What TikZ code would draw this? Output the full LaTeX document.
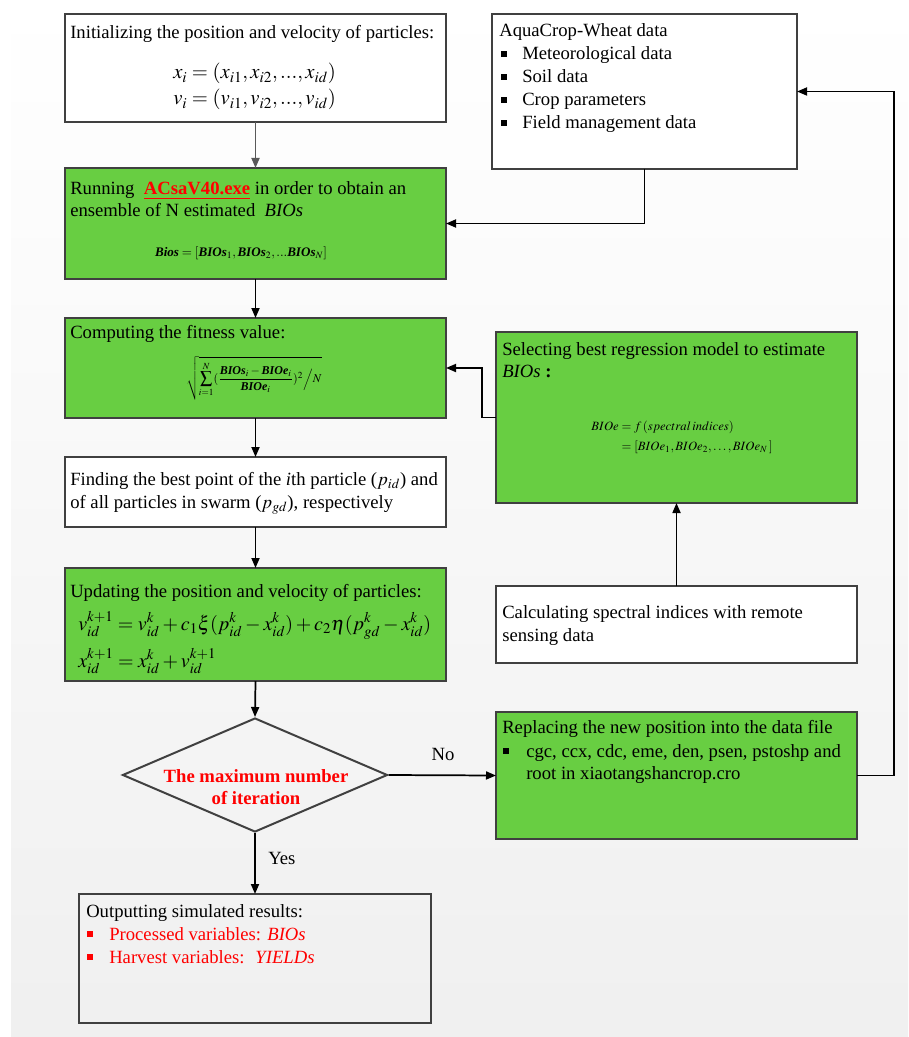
\documentclass[tikz,border=0pt]{standalone}
\usepackage{amsmath}
\usepackage{mathptmx}
\usepackage[no-math]{fontspec}
\setmainfont{Liberation Serif}
\usetikzlibrary{arrows.meta,shapes.geometric,fit}
\definecolor{boxgreen}{RGB}{104,206,66}
\definecolor{edgegray}{RGB}{64,64,64}
\definecolor{redtxt}{RGB}{255,0,0}
\newcommand\bi[1]{\textbf{\textit{#1}}}
\newcommand\sqb{\rule[2.6pt]{4.2pt}{4.2pt}}
\tikzset{
  box/.style={draw=edgegray, line width=1.5pt, inner sep=0pt, outer sep=0pt},
  gbox/.style={box, fill=boxgreen},
  wbox/.style={box, fill=white},
  txt/.style={anchor=base west, inner sep=0pt, font=\fontsize{14}{17}\selectfont},
  arr/.style={-{Triangle[length=7.5pt,width=6pt]}, line width=1.3pt, black},
}
\begin{document}
\begin{tikzpicture}[x=0.75pt,y=-0.75pt]
\useasboundingbox (0,0) rectangle (908,1037);
\fill[white] (0,0) rectangle (908,1037);
\shade[top color=white, bottom color=black!6] (11,0) rectangle (908,1037);

% left column
\node[wbox, fit={(65,14)(446,122)}] (b1) {};
\node[txt] (t1a) at (70,39) {Initializing the position and velocity of particles:};
\node[txt, font=\fontsize{15.5}{18}\selectfont] (e1a) at (173,79) {$x_i=(x_{i1},x_{i2},...,x_{id})$};
\node[txt, font=\fontsize{15.5}{18}\selectfont] (e1b) at (173,105) {$v_i=(v_{i1},v_{i2},...,v_{id})$};

\node[gbox, fit={(65,168)(446,279)}] (b2) {};
\node[txt] (t2a) at (70,195) {Running \ \textcolor{redtxt}{\underline{\textbf{ACsaV40.exe}}} in order to obtain an};
\node[txt] (t2b) at (70,217) {ensemble of N estimated \ \textit{BIOs}};
\node[inner sep=0pt, font=\fontsize{9.8}{12}\selectfont] (e2) at (241,253) {$\bi{Bios}=[\bi{BIOs}_1,\bi{BIOs}_2,...\bi{BIOs}_N]$};

\node[gbox, fit={(65,318)(446,418)}] (b3) {};
\node[txt] (t3) at (70,338) {Computing the fitness value:};
\node[inner sep=0pt, font=\fontsize{9}{11}\selectfont] (e3) at (254,378) {$\displaystyle\sqrt{\sum_{i=1}^{N}(\frac{\bi{BIOs}_i-\bi{BIOe}_i}{\bi{BIOe}_i})^2\Big/N}$};

\node[wbox, fit={(65,457)(446,527)}] (b4) {};
\node[txt] (t4a) at (70,485) {Finding the best point of the \textit{i}th particle ($p_{id}$) and};
\node[txt] (t4b) at (70,508) {of all particles in swarm ($p_{gd}$), respectively};

\node[gbox, fit={(65,568)(446,681)}] (b5) {};
\node[txt] (t5) at (70,597) {Updating the position and velocity of particles:};
\node[txt, font=\fontsize{15}{18}\selectfont] (e5a) at (78,630) {$v_{id}^{k+1}=v_{id}^{k}+c_1\xi(p_{id}^{k}-x_{id}^{k})+c_2\eta(p_{gd}^{k}-x_{id}^{k})$};
\node[txt, font=\fontsize{15}{18}\selectfont] (e5b) at (78,667) {$x_{id}^{k+1}=x_{id}^{k}+v_{id}^{k+1}$};

\node[diamond, draw=edgegray, line width=1.5pt, inner sep=0pt, minimum width=198.75pt, minimum height=85.5pt] (dia) at (255,775) {};
\node[inner sep=0pt, align=center, text=redtxt, font=\fontsize{14}{16.5}\selectfont\bfseries] (tdia) at (256,787) {The maximum number\\of iteration};

\node[box, fit={(79,894)(431,1023)}] (out) {};
\node[txt] (to1) at (86,917) {Outputting simulated results:};
\node[txt, text=redtxt] (to2) at (87,940) {\makebox[16.5pt][l]{\sqb}Processed variables: \textit{BIOs}};
\node[txt, text=redtxt] (to3) at (87,963) {\makebox[16.5pt][l]{\sqb}Harvest variables: \ \textit{YIELDs}};

% right column
\node[wbox, fit={(492,14)(797,169)}] (aq) {};
\node[txt] (ta1) at (499,37) {AquaCrop-Wheat data};
\node[txt] (ta2) at (501,60) {\makebox[15.75pt][l]{\sqb}Meteorological data};
\node[txt] (ta3) at (501,83) {\makebox[15.75pt][l]{\sqb}Soil data};
\node[txt] (ta4) at (501,106) {\makebox[15.75pt][l]{\sqb}Crop parameters};
\node[txt] (ta5) at (501,129) {\makebox[15.75pt][l]{\sqb}Field management data};

\node[gbox, fit={(496,332)(857,503)}] (sel) {};
\node[txt] (ts1) at (502,355) {Selecting best regression model to estimate};
\node[txt] (ts2) at (502,377) {\textit{BIOs} \textbf{:}};
\node[inner sep=0pt, font=\fontsize{9.5}{12}\selectfont] (es) at (682,437) {$\begin{aligned}BIOe&=f\,(spectral\,indices)\\&=[BIOe_1,BIOe_2,\dots,BIOe_N\,]\end{aligned}$};

\node[wbox, fit={(496,586)(857,663)}] (calc) {};
\node[txt] (tc1) at (502,618) {Calculating spectral indices with remote};
\node[txt] (tc2) at (502,641) {sensing data};

\node[gbox, fit={(496,712)(857,839)}] (rep) {};
\node[txt] (tr1) at (502,733) {Replacing the new position into the data file};
\node[txt] (tr2) at (503,757) {\makebox[17.25pt][l]{\sqb}cgc, ccx, cdc, eme, den, psen, pstoshp and};
\node[txt] (tr3) at (526,779) {root in xiaotangshancrop.cro};

\node[txt, anchor=base] (lno) at (443,760) {No};
\node[txt] (lyes) at (268,864) {Yes};

\coordinate (loopx) at (894,0);

% connectors
\draw[arr, draw=black!65, -{Triangle[length=7.5pt,width=6pt,fill=black!65]}] (b1.south) -- (b2.north);
\draw[arr] (b2.south) -- (b3.north);
\draw[arr] (b3.south) -- (b4.north);
\draw[arr] (b4.south) -- (b5.north);
\draw[arr] (b5.south) -- (dia.north);
\draw[arr] (dia.south) -- (out.north);
\draw[arr] (dia.east) -- (rep.west);
\draw[arr] (aq.south) |- (b2.east);
\draw[arr] (sel.west) -- ++(-14,0) |- (b3.east);
\draw[arr] (calc.north) -- (sel.south);
\draw[arr] (rep.east) -- (rep.east -| loopx) -- (aq.east -| loopx) -- (aq.east);
\end{tikzpicture}
\end{document}
